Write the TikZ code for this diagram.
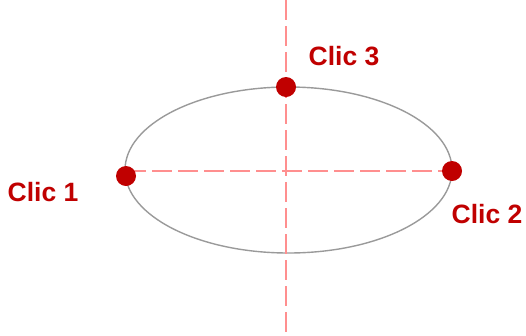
\documentclass[tikz,border=0pt]{standalone}
\usepackage{fontspec}
\setmainfont{Liberation Sans}
\usepackage{tikz}
\usetikzlibrary{positioning,backgrounds}

\definecolor{clicred}{HTML}{C00000}
\definecolor{axisred}{HTML}{FF8F8F}
\definecolor{curvegray}{HTML}{9A9A9A}

\begin{document}
\begin{tikzpicture}[x=1pt, y=-1pt,
        dot/.style={circle, fill=clicred, inner sep=0pt, minimum size=20pt},
        clic/.style={text=clicred, font=\fontsize{26.5}{30}\selectfont\bfseries, inner sep=0pt},
        axis/.style={axisred, line width=1.3pt, dash pattern=on 20pt off 6pt}]
        \useasboundingbox (0,0) rectangle (526,335);

        \coordinate (top) at (286,0);
        \coordinate (bottom) at (286,335);

        \node[dot] (p1) at (126,176) {};
        \node[dot] (p2) at (452,171) {};
        \node[dot] (p3) at (286,87) {};

        \begin{scope}[on background layer]
            \draw[curvegray, line width=1.4pt] (288.5,170) ellipse [x radius=163.5pt, y radius=83pt];
            \draw[axis] (p1.center |- p2.center) -- (p2.center);
            \draw[axis] (top) -- (bottom);
        \end{scope}

        \node[clic] (l1) at (43,192) {Clic 1};
        \node[clic] (l2) at (487,214) {Clic 2};
        \node[clic] (l3) at (344,56) {Clic 3};
    \end{tikzpicture}
\end{document}
